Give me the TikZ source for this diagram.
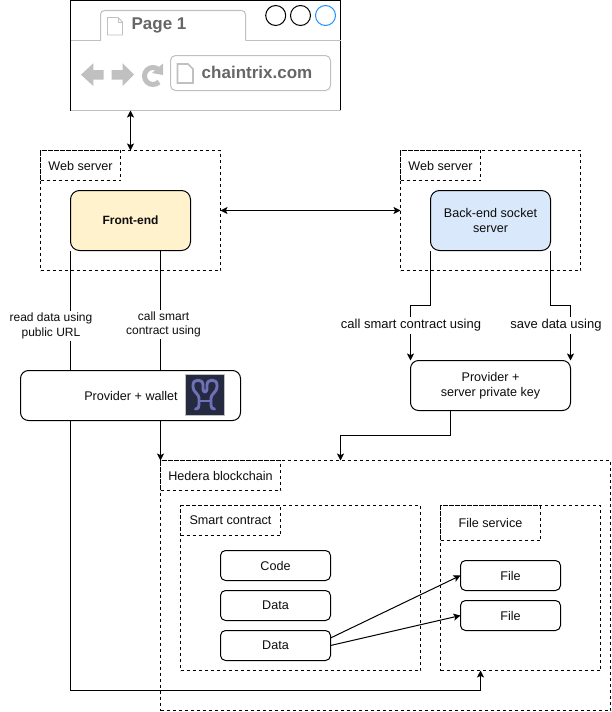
\documentclass[tikz,border=0pt]{standalone}
\usepackage{fontspec}
\setmainfont{Liberation Sans}
\usetikzlibrary{arrows.meta,calc,backgrounds}
\definecolor{uigray}{HTML}{C0C0C0}
\definecolor{uitext}{HTML}{666666}
\definecolor{inktext}{HTML}{0D0D0D}
\definecolor{logobg}{HTML}{262A40}
\definecolor{logoline}{HTML}{6E70B8}
\definecolor{tabblue}{HTML}{1E90FF}
\definecolor{frontfill}{HTML}{FFF2CC}
\definecolor{backfill}{HTML}{DAE8FC}
\tikzset{
  every node/.style={font=\fontsize{12.6}{15}\selectfont,text=inktext,align=center,inner sep=0pt,outer sep=0pt},
  rbox/.style={draw=black,fill=white,line width=1pt,rounded corners=#1},
  rbox/.default=5pt,
  group/.style={draw=black,line width=.9pt,dash pattern=on 3pt off 3pt},
  grouptitle/.style={group,fill=white,text=inktext},
  wire/.style={draw=black,line width=1pt},
  tip/.style={-{Stealth[length=7pt,width=7pt,inset=1.6pt]}},
  tips/.style={{Stealth[length=7pt,width=7pt,inset=1.6pt]}-{Stealth[length=7pt,width=7pt,inset=1.6pt]}},
  wirelabel/.style={fill=white,inner xsep=1pt,inner ysep=2pt},
  uifill/.style={fill=uigray,draw=none},
  uiline/.style={draw=uigray,line width=1pt},
}
\begin{document}
\begin{tikzpicture}[x=1pt,y=-1pt]
\useasboundingbox (-0.5,-0.5) rectangle (611.5,711.5);

% browser mock-up
\node[minimum width=270pt,minimum height=110pt,fill=white] (browser) at (205,55) {};
\draw[line width=1pt,black] (browser.south west) -- (browser.north west) -- (browser.north east) -- (browser.south east);
\draw[uiline] (browser.south west) -- (browser.south east);
\draw[uiline] (70,40) -- (100,40);
\draw[uiline] (245,40) -- (340,40);
\draw[uiline,rounded corners=4pt] (100,40) -- (100,10) -- (245,10) -- (245,40);
\draw[uiline,line width=.8pt] (107,17) -- (117.5,17) -- (122,21.5) -- (122,34.5) -- (107,34.5) -- cycle;
\draw[uiline,line width=.6pt] (117.5,17) -- (117.5,21.5) -- (122,21.5);
\node[font=\fontsize{17}{20}\selectfont\bfseries,text=uitext] (tabtitle) at (158.5,25) {Page 1};
\draw[black,line width=1pt] (275.2,15) circle (10);
\draw[black,line width=1pt] (300,15) circle (10);
\draw[draw=tabblue,line width=1pt] (325,15) circle (10);
\fill[uifill] (80.5,74.2) -- (92.8,62.8) -- (92.8,69.5) -- (103,69.5) -- (103,79) -- (92.8,79) -- (92.8,85.5) -- cycle;
\fill[uifill] (133.5,74.2) -- (122.2,62.8) -- (122.2,69.5) -- (111.2,69.5) -- (111.2,79) -- (122.2,79) -- (122.2,85.5) -- cycle;
\draw[draw=uigray,line width=5pt] (158.5,81.5) arc[start angle=45,end angle=315,radius=8.5];
\fill[uifill] (151.5,72.5) -- (162.5,63) -- (162.5,74.5) -- cycle;
\node[rbox=5pt,draw=uigray,minimum width=160pt,minimum height=35pt] (address) at (250,72.5) {};
\draw[uiline,line width=1.6pt] (177,63.5) -- (187.5,63.5) -- (192.5,68.5) -- (192.5,82.5) -- (177,82.5) -- cycle;
\node[font=\fontsize{17}{20}\selectfont\bfseries,text=uitext] (urltext) at (256.5,72) {chaintrix.com};

% groups
\node[group,minimum width=180pt,minimum height=120pt] (web1) at (130,210) {};
\node[grouptitle,minimum width=80pt,minimum height=30pt] (web1t) at (80,165) {Web server};
\node[group,minimum width=180pt,minimum height=120pt] (web2) at (490,210) {};
\node[grouptitle,minimum width=80pt,minimum height=30pt] (web2t) at (440,165) {Web server};
\node[group,minimum width=450pt,minimum height=250pt] (hedera) at (385,585) {};
\node[grouptitle,minimum width=120pt,minimum height=30pt] (hederat) at (220,475) {Hedera blockchain};
\node[group,minimum width=240pt,minimum height=165pt] (sc) at (300,587.5) {};
\node[grouptitle,minimum width=100pt,minimum height=30pt] (sct) at (230,520) {Smart contract};
\node[group,minimum width=160pt,minimum height=165pt] (fs) at (520,587.5) {};
\node[grouptitle,minimum width=100pt,minimum height=35pt] (fst) at (490,522.5) {File service};

% main nodes
\node[rbox=9pt,fill=frontfill,minimum width=120pt,minimum height=60pt,font=\fontsize{12}{15}\selectfont\bfseries] (front) at (130,220) {Front-end};
\node[rbox=9pt,fill=backfill,minimum width=120pt,minimum height=60pt] (back) at (490,220) {Back-end socket\\server};
\node[rbox=8pt,minimum width=220pt,minimum height=50pt] (wallet) at (130,395) {};
\node (wallettext) at (130.5,395) {Provider + wallet};
\node[rbox=8pt,minimum width=160pt,minimum height=50pt] (serverkey) at (490,385) {Provider +\\server private key};
\node[rbox=5pt,minimum width=110pt,minimum height=30pt] (code) at (275,565) {Code};
\node[rbox=5pt,minimum width=110pt,minimum height=30pt] (data1) at (275,605) {Data};
\node[rbox=5pt,minimum width=110pt,minimum height=30pt] (data2) at (275,645) {Data};
\node[rbox=5pt,minimum width=100pt,minimum height=30pt] (file1) at (510,575) {File};
\node[rbox=5pt,minimum width=100pt,minimum height=30pt] (file2) at (510,615) {File};

% logo
\node[fill=logobg,draw=uigray,line width=.6pt,minimum width=39.5pt,minimum height=41pt] (logo) at (204.5,394.5) {};
\draw[logoline,line width=2.9pt,line cap=round,line join=round]
  (195,408.5) .. controls (197.5,408.5) and (198.5,407.5) .. (198.5,404.5) -- (198.5,397.5)
  .. controls (198.5,393.5) and (192.5,391.5) .. (192.5,386.5) -- (192.5,384.5)
  .. controls (192.5,378) and (202.5,378) .. (202.5,384.5) -- (202.5,388.5)
  .. controls (202.5,392.5) and (206.5,392.5) .. (206.5,388.5) -- (206.5,384.5)
  .. controls (206.5,378) and (216.5,378) .. (216.5,384.5) -- (216.5,386.5)
  .. controls (216.5,391.5) and (210.5,393.5) .. (210.5,397.5) -- (210.5,404.5)
  .. controls (210.5,407.5) and (211.5,408.5) .. (214,408.5);
\draw[logoline,line width=2.9pt] (198.5,400.5) -- (210.5,400.5);

% connectors
\coordinate (browserport) at ($(browser.south west)+(60,0)$);
\coordinate (web1port) at ($(web1.north west)+(90,0)$);
\draw[wire,tips] (browserport) -- (web1port);
\draw[wire,tips] (web1.east) -- (web2.west);

\coordinate (frontleft) at (front.south west);
\coordinate (frontright) at ($(front.south west)+(90,0)$);
\coordinate (hederaleft) at (hedera.north west);
\coordinate (fsport) at ($(fs.south west)+(40,0)$);
\coordinate (backleft) at (back.south west);
\coordinate (backright) at (back.south east);
\coordinate (keyleft) at (serverkey.north west);
\coordinate (keyright) at (serverkey.north east);
\draw[wire,tip] (backleft) -- ++(0,55) -| (keyleft);
\draw[wire,tip] (backright) -- ++(0,55) -| (keyright);
\node[wirelabel,font=\fontsize{13}{15}\selectfont] (labcall2) at (410.5,325) {call smart contract using};
\node[wirelabel,font=\fontsize{13}{15}\selectfont] (labsave) at (555.5,325) {save data using};
\coordinate (keyout) at ($(serverkey.south west)+(40,0)$);
\coordinate (hederaport) at ($(hedera.north west)+(180,0)$);
\draw[wire,tip] (keyout) -- ++(0,25) -| (hederaport);
\draw[wire,tip] ($(data2.east)+(0,-7.5)$) -- (file1.west);
\draw[wire,tip] (data2.east) -- (file2.west);

% lines that pass behind the wallet box
\begin{pgfonlayer}{background}
\draw[wire,tip] (frontleft) |- (330,690) -| (fsport);
\draw[wire,tip] (frontright) -- (hederaleft);
\end{pgfonlayer}
\node[wirelabel,font=\fontsize{12}{14.5}\selectfont] (labread) at (50.5,325.5) {read data using\\public URL};
\node[wirelabel,font=\fontsize{12}{14}\selectfont] (labcall1) at (163,324) {call smart\\contract using};
\end{tikzpicture}
\end{document}
